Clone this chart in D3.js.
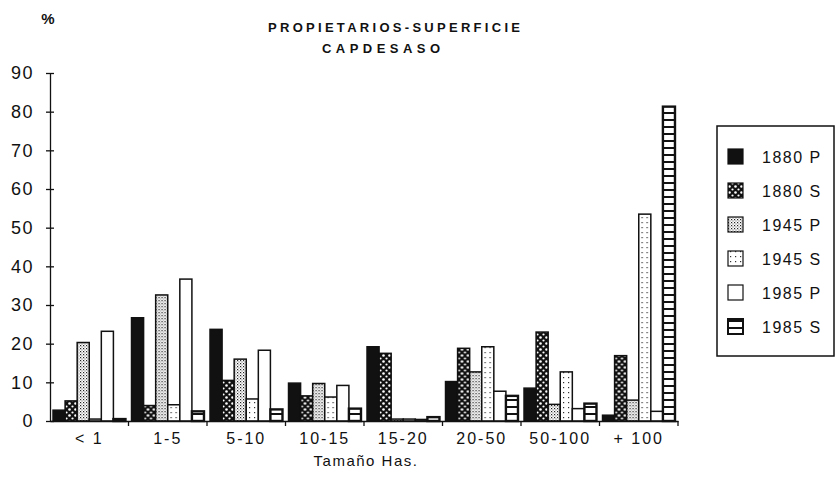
<!DOCTYPE html>
<html><head><meta charset="utf-8">
<script src="https://cdn.jsdelivr.net/npm/d3@7"></script>
<style>body{margin:0;background:#fff}svg{display:block}</style>
</head><body><svg id="c" width="837" height="490"></svg>
<script>
// ---- data ----
const categories = ["< 1", "1-5", "5-10", "10-15", "15-20", "20-50", "50-100", "+ 100"];
const seriesNames = ["1880 P", "1880 S", "1945 P", "1945 S", "1985 P", "1985 S"];
const p1880 = [2.8, 26.7, 23.7, 9.8, 19.2, 10.2, 8.5, 1.5];
const s1880 = [5.2, 4.0, 10.5, 6.5, 17.5, 18.8, 23.0, 16.9];
const p1945 = [20.3, 32.6, 16.0, 9.7, 0.5, 12.7, 4.3, 5.4];
const s1945 = [0.5, 4.2, 5.7, 6.2, 0.5, 19.2, 12.7, 53.5];
const p1985 = [23.2, 36.7, 18.3, 9.2, 0.4, 7.7, 3.2, 2.5];
const s1985 = [0.5, 2.5, 3.0, 3.2, 1.0, 6.5, 4.5, 81.3];
const yTicks = [0, 10, 20, 30, 40, 50, 60, 70, 80, 90];
const titleLines = ["PROPIETARIOS-SUPERFICIE", "CAPDESASO"];
const yLabel = "%";
const xLabel = "Tamaño Has.";

const seriesValues = [p1880, s1880, p1945, s1945, p1985, s1985];
const fills = ["#111", "url(#pS1880)", "url(#pP1945)", "url(#pS1945)", "#fff", "url(#pS1985)"];
const FONT = "Liberation Sans, Arial, sans-serif";

const svg = d3.select("#c");
svg.append("rect").attr("width", 837).attr("height", 490).attr("fill", "#fff");

// ---- patterns ----
const defs = svg.append("defs");
{
  const p = defs.append("pattern").attr("id", "pS1880").attr("patternUnits", "userSpaceOnUse")
    .attr("width", 6).attr("height", 6);
  p.append("rect").attr("width", 6).attr("height", 6).attr("fill", "#111");
  p.append("circle").attr("cx", 1.5).attr("cy", 1.5).attr("r", 1.3).attr("fill", "#fff");
  p.append("circle").attr("cx", 4.5).attr("cy", 4.5).attr("r", 1.1).attr("fill", "#fff");
}
{
  const p = defs.append("pattern").attr("id", "pP1945").attr("patternUnits", "userSpaceOnUse")
    .attr("width", 3).attr("height", 3);
  p.append("rect").attr("width", 3).attr("height", 3).attr("fill", "#fff");
  p.append("rect").attr("x", 0).attr("y", 0).attr("width", 1.2).attr("height", 1.2).attr("fill", "#222");
  p.append("rect").attr("x", 1.5).attr("y", 1.5).attr("width", 1.0).attr("height", 1.0).attr("fill", "#444");
}
{
  const p = defs.append("pattern").attr("id", "pS1945").attr("patternUnits", "userSpaceOnUse")
    .attr("width", 5).attr("height", 5);
  p.append("rect").attr("width", 5).attr("height", 5).attr("fill", "#fff");
  p.append("rect").attr("x", 2).attr("y", 2).attr("width", 1.2).attr("height", 1.2).attr("fill", "#333");
}
{
  const p = defs.append("pattern").attr("id", "pS1985").attr("patternUnits", "userSpaceOnUse")
    .attr("width", 14).attr("height", 7);
  p.append("rect").attr("width", 14).attr("height", 7).attr("fill", "#fff");
  p.append("rect").attr("x", 0).attr("y", 0).attr("width", 14).attr("height", 2).attr("fill", "#111");
}

// ---- scales ----
const x0 = d3.scaleBand().domain(categories).range([50, 678]).padding(0);
const x1 = d3.scaleBand().domain(seriesNames).range([0, x0.bandwidth()]).paddingInner(0).paddingOuter(0.25);
const y = d3.scaleLinear().domain([0, 90]).range([421, 73]);

// ---- bars ----
const groups = svg.append("g").selectAll("g").data(categories).join("g")
  .attr("transform", d => `translate(${x0(d)},0)`);
groups.selectAll("rect")
  .data((c, i) => seriesNames.map((s, k) => ({ s, k, v: seriesValues[k][i] })))
  .join("rect")
  .attr("x", d => x1(d.s))
  .attr("y", d => y(d.v))
  .attr("width", x1.bandwidth())
  .attr("height", d => y(0) - y(d.v))
  .attr("fill", d => fills[d.k])
  .attr("stroke", "#111")
  .attr("stroke-width", d => d.k === 5 ? 2.4 : 1.5);

// ---- axes ----
const yAxis = svg.append("g").attr("transform", "translate(50,0)")
  .call(d3.axisLeft(y).tickValues(yTicks).tickSize(4).tickPadding(12).tickSizeOuter(0));
yAxis.select(".domain").attr("stroke", "#111").attr("stroke-width", 1.3);
yAxis.selectAll(".tick line").attr("x1", -4).attr("x2", 4).attr("stroke", "#111").attr("stroke-width", 1.3);
yAxis.selectAll(".tick text").attr("font-family", FONT)
  .attr("font-size", 18).attr("letter-spacing", 1.5).attr("fill", "#111");

const xAxis = svg.append("g").attr("transform", "translate(0,421)")
  .call(d3.axisBottom(x0).tickSize(0).tickPadding(12).tickSizeOuter(0));
xAxis.select(".domain").attr("stroke", "#111").attr("stroke-width", 1.3);
xAxis.selectAll(".tick text").attr("font-family", FONT)
  .attr("font-size", 16).attr("letter-spacing", 2).attr("fill", "#111");
xAxis.selectAll(".bnd").data(categories).join("line").attr("class", "bnd")
  .attr("x1", d => x0(d) + x0.bandwidth()).attr("x2", d => x0(d) + x0.bandwidth())
  .attr("y1", 0).attr("y2", 5).attr("stroke", "#111").attr("stroke-width", 1.3);

// ---- texts ----
svg.append("text").attr("x", 366).attr("y", 466).attr("text-anchor", "middle")
  .attr("font-family", FONT).attr("font-size", 15).attr("letter-spacing", 1.5).attr("fill", "#111")
  .text(xLabel);
svg.append("text").attr("x", 48).attr("y", 24).attr("text-anchor", "middle")
  .attr("font-family", FONT).attr("font-weight", "bold")
  .attr("font-size", 15).attr("fill", "#111").text(yLabel);
const titleX = [268, 322], titleW = [252, 118];
svg.append("g").selectAll("text").data(titleLines).join("text")
  .attr("x", (d, i) => titleX[i]).attr("y", (d, i) => 32 + i * 21)
  .attr("textLength", (d, i) => titleW[i]).attr("lengthAdjust", "spacing")
  .attr("font-family", FONT)
  .attr("font-weight", "bold").attr("font-size", 13).attr("fill", "#111")
  .text(d => d);

// ---- legend ----
const leg = svg.append("g");
leg.append("rect").attr("x", 717).attr("y", 126).attr("width", 117).attr("height", 230)
  .attr("fill", "none").attr("stroke", "#111").attr("stroke-width", 1.5);
const li = leg.selectAll(".li").data(seriesNames).join("g").attr("class", "li")
  .attr("transform", (d, i) => `translate(728,${157 + i * 34})`);
li.append("rect").attr("x", 0).attr("y", -8).attr("width", 15).attr("height", 15)
  .attr("fill", (d, i) => fills[i]).attr("stroke", "#111").attr("stroke-width", (d, i) => i === 5 ? 2 : 1.2);
li.append("text").attr("x", 34).attr("y", 0).attr("dy", "0.35em")
  .attr("font-family", FONT).attr("font-size", 16).attr("letter-spacing", 1.5).attr("fill", "#111")
  .text(d => d);
</script></body></html>
